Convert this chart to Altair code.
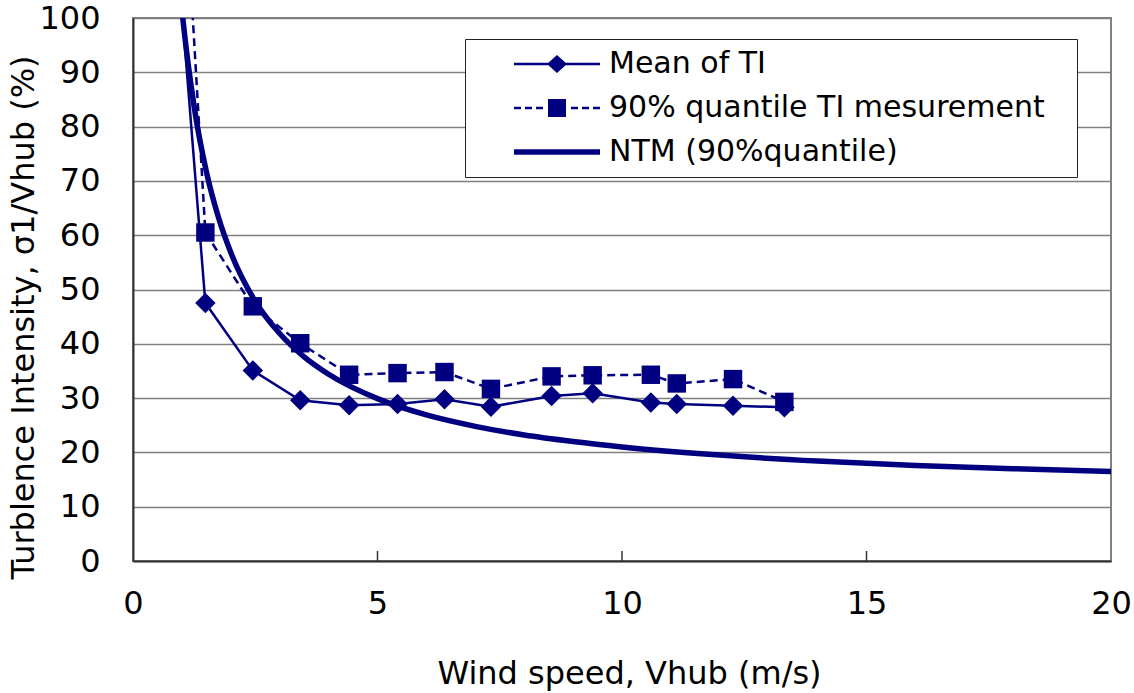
import altair as alt
import pandas as pd

NAVY = "#000080"
FONT = "DejaVu Sans"

# Binned wind speed (m/s) and measured turbulence intensity (%)
speed = [0.5, 1.48, 2.45, 3.42, 4.42, 5.41, 6.37, 7.32, 8.56, 9.40, 10.59, 11.12, 12.27, 13.32]
mean_ti = [158, 47.5, 35.1, 29.6, 28.7, 28.9, 29.8, 28.4, 30.4, 30.9, 29.2, 28.9, 28.6, 28.3]
q90_ti = [211, 60.5, 46.9, 40.1, 34.3, 34.6, 34.8, 31.7, 34.0, 34.2, 34.3, 32.7, 33.5, 29.3]

# NTM (90% quantile) curve
ntm_speed = [0.9, 1.0, 1.25, 1.5, 1.75, 2.0, 2.5, 3.0, 3.5, 4.0, 5.0, 6.0, 7.0, 8.0, 9.0,
             10.0, 12.0, 14.0, 16.0, 18.0, 20.0]
ntm_ti = [111.6, 101.6, 83.7, 71.7, 63.2, 56.8, 47.8, 41.9, 37.6, 34.4, 29.9, 26.9, 24.8,
          23.2, 22.0, 21.0, 19.5, 18.4, 17.6, 17.0, 16.5]

series_names = ["Mean of TI", "90% quantile TI mesurement", "NTM (90%quantile)"]
x_ticks = [0, 5, 10, 15, 20]
y_ticks = [0, 10, 20, 30, 40, 50, 60, 70, 80, 90, 100]
inner_ticks = [5, 10, 15]

W, H = 978, 543

mean_df = pd.DataFrame({"speed": speed, "ti": mean_ti})
q90_df = pd.DataFrame({"speed": speed, "ti": q90_ti})
ntm_df = pd.DataFrame({"speed": ntm_speed, "ti": ntm_ti})
leg_df = pd.DataFrame({"speed": [-5] * 3, "ti": [50] * 3, "series": series_names})
tick_df = pd.DataFrame({"speed": inner_ticks})

x_enc = alt.X(
    "speed:Q",
    scale=alt.Scale(domain=[0, 20], nice=False, zero=False),
    axis=alt.Axis(
        values=x_ticks, grid=False, ticks=False, tickSize=0, labelPadding=27,
        labelFlush=False,
        labelFont=FONT, labelFontSize=32, labelColor="black",
        domainColor="#333333", domainWidth=2,
        title="Wind speed, Vhub (m/s)", titleFont=FONT, titleFontSize=32,
        titleFontWeight="normal", titleColor="black",
        titleX=496, titleY=122, titleBaseline="alphabetic", titleAlign="center",
    ),
)
y_enc = alt.Y(
    "ti:Q",
    scale=alt.Scale(domain=[0, 100], nice=False, zero=False),
    axis=alt.Axis(
        values=y_ticks, grid=True, gridColor="#808080", gridWidth=1.5,
        ticks=False, tickSize=0, labelPadding=33, labelFlush=False,
        labelFont=FONT, labelFontSize=32, labelColor="black",
        domainColor="#333333", domainWidth=2,
        title="Turblence Intensity, σ1/Vhub (%)", titleFont=FONT, titleFontSize=32,
        titleFontWeight="normal", titleColor="black",
        titleAngle=270, titleX=-100, titleY=299, titleBaseline="alphabetic",
        titleAlign="center",
    ),
)

# custom legend symbols (unit = symbol radius of 10 px)
def rect(a, b, h):
    return f"M{a},{-h}H{b}V{h}H{a}Z"

mean_sym = rect(-4.3, 4.3, 0.12) + " M-1,0L0,-0.9L1,0L0,0.9Z"
dash_parts = [(-4.3, -3.6), (-3.2, -2.5), (-2.1, -1.4), (1.4, 2.1), (2.5, 3.2), (3.6, 4.3)]
q90_sym = " ".join(rect(a, b, 0.12) for a, b in dash_parts) + " M-0.9,-0.9H0.9V0.9H-0.9Z"
ntm_sym = rect(-4.3, 4.3, 0.28)

legend_layer = alt.Chart(leg_df).mark_point(
    filled=True, size=400, color=NAVY, opacity=1, clip=True
).encode(
    x=x_enc, y=y_enc,
    shape=alt.Shape(
        "series:N",
        scale=alt.Scale(domain=series_names, range=[mean_sym, q90_sym, ntm_sym]),
        legend=alt.Legend(
            title=None, orient="none", legendX=332, legendY=21,
            padding=10, rowPadding=14, symbolOffset=67, labelOffset=37,
            symbolSize=400, symbolFillColor=NAVY, symbolStrokeWidth=0,
            labelFont=FONT, labelFontSize=30, labelColor="black",
            labelExpr="datum.label + '\u2800'",
            labelLimit=0,
            strokeColor="#222222", fillColor="white",
        ),
    ),
)

ticks_layer = alt.Chart(tick_df).mark_rule(color="#333333", strokeWidth=1.5).encode(
    x=alt.X("speed:Q"), y=alt.value(H - 10), y2=alt.value(H)
)

mean_line = alt.Chart(mean_df).mark_line(color=NAVY, strokeWidth=2.5, clip=True).encode(x=x_enc, y=y_enc)
mean_pts = alt.Chart(mean_df).mark_point(
    shape="diamond", filled=True, size=420, color=NAVY, opacity=1, clip=True
).encode(x=x_enc, y=y_enc)

q90_line = alt.Chart(q90_df).mark_line(
    color=NAVY, strokeWidth=2.5, strokeDash=[8, 5], clip=True
).encode(x=x_enc, y=y_enc)
q90_pts = alt.Chart(q90_df).mark_point(
    shape="square", filled=True, size=340, color=NAVY, opacity=1, clip=True
).encode(x=x_enc, y=y_enc)

ntm_line = alt.Chart(ntm_df).mark_line(
    color=NAVY, strokeWidth=5.5, interpolate="monotone", clip=True
).encode(x=x_enc, y=y_enc)

chart = alt.layer(
    legend_layer, ticks_layer, mean_line, mean_pts, q90_line, q90_pts, ntm_line
).properties(
    width=W, height=H,
    autosize=alt.AutoSizeParams(type="none"),
    padding={"left": 133, "top": 18, "right": 23, "bottom": 132},
    background="white",
).configure_view(
    stroke="#808080", strokeWidth=2
)

chart.save("out.html", embed_options={"renderer": "svg", "actions": False})
